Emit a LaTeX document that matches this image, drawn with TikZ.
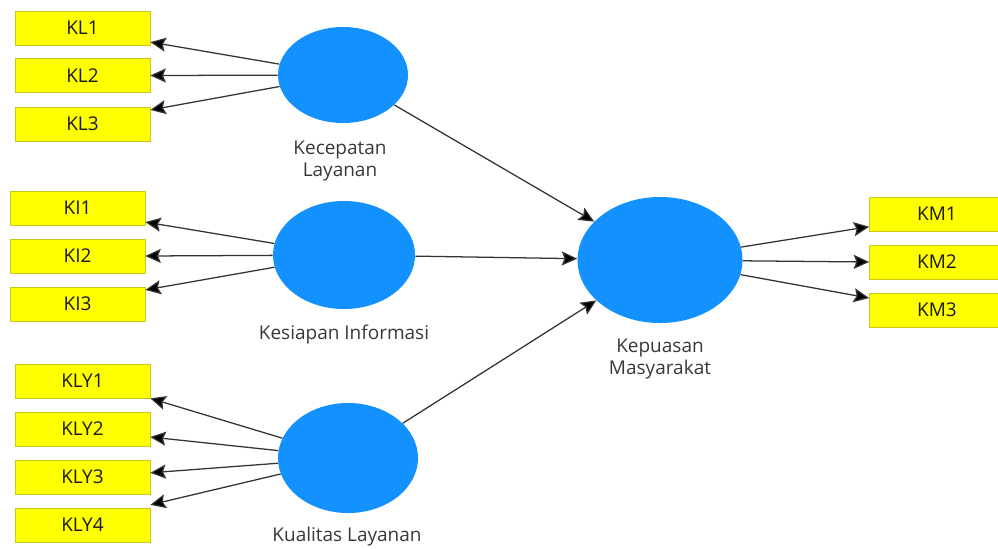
\documentclass[tikz,border=0pt]{standalone}
\usepackage{fontspec}
\setsansfont{Open Sans}
\usepackage{tikz}
\usetikzlibrary{arrows.meta, positioning, calc, shapes.geometric}
\definecolor{lvblue}{HTML}{1391FE}
\definecolor{indyel}{HTML}{FFFF00}
\definecolor{indedge}{HTML}{C8C820}
\definecolor{linkgray}{HTML}{333333}

\begin{document}
\begin{tikzpicture}[
        x=0.025cm, y=-0.025cm,
        >={Stealth[length=11pt, width=10pt, inset=2pt, fill=black]},
        latent/.style ={ellipse, fill=lvblue, inner sep=0pt},
        ind/.style    ={rectangle, fill=indyel, draw=indedge, line width=0.5pt,
                        minimum width=3.375cm, minimum height=0.85cm, inner sep=0pt,
                        font=\sffamily\fontsize{13.5}{15}\selectfont, text=black!90},
        lbl/.style    ={align=center, font=\sffamily\fontsize{13.5}{15.5}\selectfont,
                        text=black!78},
        link/.style   ={->, draw=linkgray, line width=0.9pt}
    ]
    \useasboundingbox[fill=white] (0,0) rectangle (998,548);

    % latent variables
    \node[latent, minimum width=3.25cm,  minimum height=2.4cm]  (kc) at (343,75)  {};
    \node[latent, minimum width=3.55cm,  minimum height=2.7cm]  (ki) at (344,255) {};
    \node[latent, minimum width=3.5cm,   minimum height=2.75cm] (kq) at (348,458) {};
    \node[latent, minimum width=4.125cm, minimum height=3.15cm] (km) at (660,260) {};

    \node[lbl] (kclbl) at (340,161) {Kecepatan\\Layanan};
    \node[lbl] (kilbl) at (344,335) {Kesiapan Informasi};
    \node[lbl] (kqlbl) at (347,537) {Kualitas Layanan};
    \node[lbl] (kmlbl) at (660,359) {Kepuasan\\Masyarakat};

    % indicators
    \node[ind] (kl1) at (82.5,28)  {KL1};
    \node[ind] (kl2) at (82.5,75.5) {KL2};
    \node[ind] (kl3) at (82.5,124) {KL3};

    \node[ind] (ki1) at (77.5,208) {KI1};
    \node[ind] (ki2) at (77.5,256) {KI2};
    \node[ind] (ki3) at (77.5,304) {KI3};

    \node[ind] (kly1) at (82.5,381) {KLY1};
    \node[ind] (kly2) at (82.5,429) {KLY2};
    \node[ind] (kly3) at (82.5,477) {KLY3};
    \node[ind] (kly4) at (82.5,525) {KLY4};

    \node[ind] (km1) at (937,214) {KM1};
    \node[ind] (km2) at (937,262) {KM2};
    \node[ind] (km3) at (937,310) {KM3};

    % outer model
    \draw[link] (kc) -- ([yshift=-10pt]kl1.east);
    \draw[link] (kc) -- (kl2.east);
    \draw[link] (kc) -- ([yshift=10pt]kl3.east);

    \draw[link] (ki) -- ([yshift=-10pt]ki1.east);
    \draw[link] (ki) -- (ki2.east);
    \draw[link] (ki) -- ([yshift=10pt]ki3.east);

    \draw[link] (kq) -- (kly1.south east);
    \draw[link] (kq) -- ([yshift=-5.7pt]kly2.east);
    \draw[link] (kq) -- ([yshift=3pt]kly3.east);
    \draw[link] (kq) -- ([yshift=2pt]kly4.north east);

    \draw[link] (km) -- ([yshift=-9pt]km1.west);
    \draw[link] (km) -- (km2.west);
    \draw[link] (km) -- ([yshift=8.5pt]km3.west);

    % inner model
    \draw[link] (kc) -- (km);
    \draw[link] (ki) -- (km);
    \draw[link] (kq) -- (km);
\end{tikzpicture}
\end{document}
